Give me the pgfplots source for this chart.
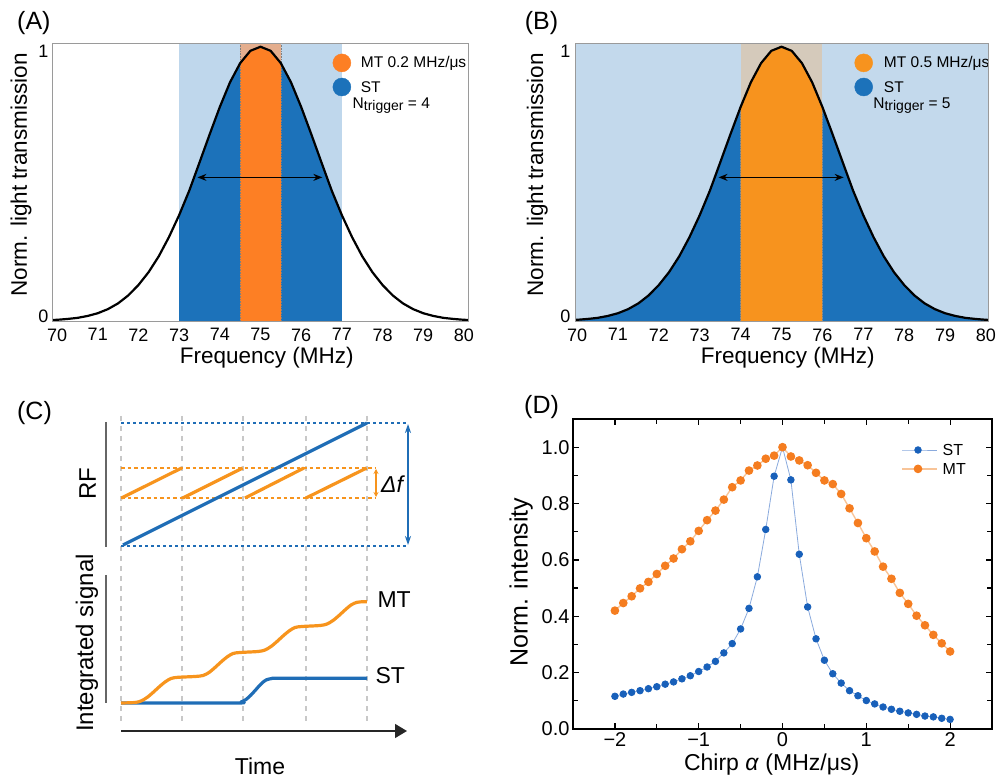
\documentclass[border=0pt]{standalone}
\usepackage{pgfplots}
\usepackage{pgfplotstable}
\pgfplotsset{compat=1.18}
\usepackage{fontspec}
\setmainfont{Liberation Sans}
\usetikzlibrary{arrows.meta}
\definecolor{lbA}{HTML}{BFD7EC}
\definecolor{dbA}{HTML}{1C72BA}
\definecolor{orA}{HTML}{FD7F24}
\definecolor{tanA}{HTML}{E4AE8E}
\definecolor{lbB}{HTML}{C3D9EC}
\definecolor{tanB}{HTML}{D5CABB}
\definecolor{orB}{HTML}{F7931E}
\definecolor{boxgray}{HTML}{9A9A9A}
\definecolor{orC}{HTML}{F7941D}
\definecolor{blC}{HTML}{1F6DB6}
\definecolor{grC}{HTML}{C8C8C8}
\definecolor{stD}{HTML}{1860BA}
\definecolor{stDl}{HTML}{8AAADD}
\definecolor{mtD}{HTML}{F57D20}
\definecolor{mtDl}{HTML}{F8C498}
\newcommand\fs[1]{\fontsize{#1}{#1}\selectfont}

\pgfplotstableread{
x y
69.9 0.0025
70 0.003
70.25 0.006
70.5 0.010
70.75 0.017
71 0.027
71.25 0.042
71.5 0.063
71.75 0.092
72 0.130
72.25 0.177
72.5 0.235
72.75 0.305
73 0.385
73.25 0.475
73.5 0.577
73.75 0.680
74 0.780
74.25 0.870
74.5 0.940
74.75 0.985
75 1.000
75.25 0.985
75.5 0.940
75.75 0.870
76 0.780
76.25 0.680
76.5 0.577
76.75 0.475
77 0.385
77.25 0.305
77.5 0.235
77.75 0.177
78 0.130
78.25 0.092
78.5 0.063
78.75 0.042
79 0.027
79.25 0.017
79.5 0.010
79.75 0.006
80 0.003
80.1 0.0025
}\gauss

\pgfplotsset{
  specAB/.style={
    anchor=south west, scale only axis, height=278pt,
    ymin=-0.005, ymax=1.01,
    xtick={70,71,...,80}, ytick={0.016,0.982}, yticklabels={0,1},
    major tick length=0pt, tick style={draw=none},
    axis line style={draw=boxgray, line width=1pt},
    axis on top,
    /pgf/number format/assume math mode=true,
    tick label style={font=\fs{18}},
    xticklabel style={yshift=-3pt},
    yticklabel style={xshift=-1pt},
    xlabel={Frequency (MHz)}, ylabel={Norm. light transmission},
    label style={font=\fs{22.5}},
  }
}

\begin{document}
\begin{tikzpicture}
\path[use as bounding box] (0,0) rectangle (996pt,781pt);

% ---------------- (A) ----------------
\begin{axis}[specAB, at={(53pt,459pt)}, width=415pt, xmin=69.9, xmax=80.1,
  xlabel style={at={(axis description cs:0.515,-0.129)}, anchor=center},
  ylabel style={at={(axis description cs:-0.077,0.53)}, anchor=center},
  extra description/.code={\node[font=\fs{25}] at (-0.046,1.077) {(A)};}]
\addplot[draw=none, fill=lbA] coordinates {(73,-0.005)(73,1.01)(77,1.01)(77,-0.005)} -- cycle;
\addplot[draw=none, fill=tanA] coordinates {(74.5,-0.005)(74.5,1.01)(75.5,1.01)(75.5,-0.005)} -- cycle;
\addplot[draw=none, fill=dbA] coordinates {(73,-0.005)(73,.385)(73.25,.475)(73.5,.577)(73.75,.680)(74,.780)(74.25,.870)(74.5,.940)(74.75,.985)(75,1)(75.25,.985)(75.5,.940)(75.75,.870)(76,.780)(76.25,.680)(76.5,.577)(76.75,.475)(77,.385)(77,-0.005)} -- cycle;
\addplot[draw=none, fill=orA] coordinates {(74.5,-0.005)(74.5,.940)(74.75,.985)(75,1)(75.25,.985)(75.5,.940)(75.5,-0.005)} -- cycle;
\addplot[black!50, line width=0.6pt, densely dotted] coordinates {(74.5,-0.005)(74.5,1.01)};
\addplot[black!50, line width=0.6pt, densely dotted] coordinates {(75.5,-0.005)(75.5,1.01)};
\addplot[black, line width=2.2pt, line join=round] table {\gauss};
\addplot[black, line width=1.3pt, arrows={Stealth[length=9pt,width=7pt]-Stealth[length=9pt,width=7pt]}] coordinates {(73.45,0.523)(76.52,0.523)};
\addplot[only marks, mark=*, mark size=9pt, color=orA] coordinates {(77.0,0.941)};
\addplot[only marks, mark=*, mark size=9pt, color=dbA] coordinates {(77.0,0.853)};
\node[anchor=west, font=\fs{15.5}] at (axis cs:77.38,0.941) {MT 0.2 MHz/μs};
\node[anchor=west, font=\fs{15.5}] at (axis cs:77.38,0.853) {ST};
\node[anchor=west, font=\fs{15.5}] at (axis cs:77.18,0.785) {N\raisebox{-0.35ex}{\fs{14}trigger} = 4};
\end{axis}

% ---------------- (B) ----------------
\begin{axis}[specAB, at={(575pt,459pt)}, width=413pt, xmin=69.95, xmax=80.05,
  axis background/.style={fill=lbB},
  xlabel style={at={(axis description cs:0.515,-0.129)}, anchor=center},
  ylabel style={at={(axis description cs:-0.091,0.53)}, anchor=center},
  extra description/.code={\node[font=\fs{25}] at (-0.081,1.077) {(B)};}]
\addplot[draw=none, fill=tanB] coordinates {(74,-0.005)(74,1.01)(76,1.01)(76,-0.005)} -- cycle;
\addplot[draw=none, fill=dbA] coordinates {(69.95,-0.005)(69.95,0.0027)(70,.003)(70.25,.006)(70.5,.010)(70.75,.017)(71,.027)(71.25,.042)(71.5,.063)(71.75,.092)(72,.130)(72.25,.177)(72.5,.235)(72.75,.305)(73,.385)(73.25,.475)(73.5,.577)(73.75,.680)(74,.780)(74.25,.870)(74.5,.940)(74.75,.985)(75,1)(75.25,.985)(75.5,.940)(75.75,.870)(76,.780)(76.25,.680)(76.5,.577)(76.75,.475)(77,.385)(77.25,.305)(77.5,.235)(77.75,.177)(78,.130)(78.25,.092)(78.5,.063)(78.75,.042)(79,.027)(79.25,.017)(79.5,.010)(79.75,.006)(80,.003)(80.05,0.0027)(80.05,-0.005)} -- cycle;
\addplot[draw=none, fill=orB] coordinates {(74,-0.005)(74,.780)(74.25,.870)(74.5,.940)(74.75,.985)(75,1)(75.25,.985)(75.5,.940)(75.75,.870)(76,.780)(76,-0.005)} -- cycle;
\addplot[black!45, line width=0.6pt, densely dotted] coordinates {(74,-0.005)(74,0.78)};
\addplot[black!45, line width=0.6pt, densely dotted] coordinates {(76,-0.005)(76,0.78)};
\addplot[black, line width=2.2pt, line join=round] table {\gauss};
\addplot[black, line width=1.3pt, arrows={Stealth[length=9pt,width=7pt]-Stealth[length=9pt,width=7pt]}] coordinates {(73.46,0.523)(76.52,0.523)};
\addplot[only marks, mark=*, mark size=9pt, color=orB] coordinates {(77.01,0.941)};
\addplot[only marks, mark=*, mark size=9pt, color=dbA] coordinates {(77.01,0.853)};
\node[anchor=west, font=\fs{15.5}] at (axis cs:77.42,0.941) {MT 0.5 MHz/μs};
\node[anchor=west, font=\fs{15.5}] at (axis cs:77.42,0.853) {ST};
\node[anchor=west, font=\fs{15.5}] at (axis cs:77.16,0.785) {N\raisebox{-0.35ex}{\fs{14}trigger} = 5};
\end{axis}

% ---------------- (C) ----------------
\begin{axis}[at={(0pt,0pt)}, anchor=south west, scale only axis, width=500pt, height=391pt,
  xmin=0, xmax=500, ymin=390, ymax=781, y dir=reverse, hide axis, clip=false]
\addplot[grC, line width=1.2pt, dash pattern=on 5pt off 5pt] coordinates {(121,416)(121,725)};
\addplot[grC, line width=1.2pt, dash pattern=on 5pt off 5pt] coordinates {(182,416)(182,725)};
\addplot[grC, line width=1.2pt, dash pattern=on 5pt off 5pt] coordinates {(243,416)(243,725)};
\addplot[grC, line width=1.2pt, dash pattern=on 5pt off 5pt] coordinates {(306,416)(306,725)};
\addplot[grC, line width=1.2pt, dash pattern=on 5pt off 5pt] coordinates {(367,416)(367,725)};
\addplot[black!60, line width=1.2pt] coordinates {(106,422)(106,547)};
\addplot[black!60, line width=1.2pt] coordinates {(106,575)(106,703)};
\addplot[blC, line width=1.6pt, dash pattern=on 3pt off 3pt] coordinates {(121,423)(407,423)};
\addplot[blC, line width=1.6pt, dash pattern=on 3pt off 3pt] coordinates {(121,546)(407,546)};
\addplot[orC, line width=1.4pt, dash pattern=on 3.5pt off 3pt] coordinates {(121,468)(375,468)};
\addplot[orC, line width=1.4pt, dash pattern=on 3.5pt off 3pt] coordinates {(121,498)(375,498)};
\addplot[blC, line width=3.2pt] coordinates {(123,545)(367,423)};
\addplot[orC, line width=3.2pt] coordinates {(121.5,498)(181.7,468)};
\addplot[orC, line width=3.2pt] coordinates {(182.7,498)(242.7,468)};
\addplot[orC, line width=3.2pt] coordinates {(245,498)(304,468)};
\addplot[orC, line width=3.2pt] coordinates {(306,498)(366.7,468)};
\addplot[blC, line width=1.4pt, arrows={Stealth[length=9pt,width=6pt]-Stealth[length=9pt,width=6pt]}] coordinates {(408,424)(408,545)};
\addplot[orC, line width=1.2pt, arrows={Stealth[length=5pt,width=5pt]-Stealth[length=5pt,width=5pt]}] coordinates {(376,469)(376,497)};
\addplot[blC, line width=3.2pt, line join=round, smooth] coordinates {(121,703)(236,703)(241,702)(246,699.5)(251,695)(256,689.5)(261,684)(266,680)(272,678.5)(280,678.2)(367,678.2)};
\addplot[orC, line width=3.2pt, line join=round, smooth] coordinates {(121,703)(135,702.5)(141,701)(147,697.5)(153,692.5)(159,687)(165,682)(171,678.5)(178,677.3)(195,676.5)(203,675.5)(209,672.5)(215,667.5)(221,662)(227,657)(233,653.5)(240,652.5)(258,651.5)(265,650)(271,646.5)(277,641.5)(283,636)(289,631)(295,627.5)(302,626.5)(320,625.5)(327,624)(333,620.5)(339,615.5)(345,610)(351,605)(357,602.3)(364,601.7)(367,601.7)};
\addplot[black!85, line width=1.5pt, arrows={-Triangle[length=12pt,width=14pt]}] coordinates {(121,731)(407,731)};
\node[font=\fs{23}\itshape] at (axis cs:392,484) {Δf};
\node[font=\fs{23}, anchor=west] at (axis cs:374,600) {MT};
\node[font=\fs{23}, anchor=west] at (axis cs:372,675.5) {ST};
\node[font=\fs{23}] at (axis cs:260,766.5) {Time};
\node[font=\fs{24}, rotate=90] at (axis cs:87.5,484) {RF};
\node[font=\fs{24}, rotate=90] at (axis cs:87,643) {Integrated signal};
\node[font=\fs{25}] at (axis cs:34.5,413) {(C)};
\end{axis}

% ---------------- (D) ----------------
\begin{axis}[at={(573pt,52pt)}, anchor=south west, scale only axis, width=419pt, height=310pt,
  xmin=-2.5, xmax=2.5, ymin=0, ymax=1.1,
  xtick={-2,-1,0,1,2}, xticklabels={−2,−1,0,1,2},
  ytick={0,0.2,0.4,0.6,0.8,1.0}, yticklabels={0.0,0.2,0.4,0.6,0.8,1.0},
  minor xtick={-1.5,-0.5,0.5,1.5}, minor ytick={0.1,0.3,0.5,0.7,0.9},
  tick align=inside, major tick length=6pt, minor tick length=5pt,
  tick style={line width=1.2pt, black},
  axis line style={line width=1.2pt},
  tick label style={font=\fs{20}},
  xlabel={Chirp \textit{α} (MHz/μs)}, ylabel={Norm. intensity},
  xlabel style={font=\fs{23}, at={(axis description cs:0.474,-0.116)}, anchor=center},
  ylabel style={font=\fs{25}, at={(axis description cs:-0.124,0.474)}, anchor=center},
  clip=false]
\addplot[stDl, line width=0.8pt, mark=*, mark size=3.3pt, mark options={draw=stD, fill=stD}] coordinates {(-2,0.116)(-1.9,0.124)(-1.8,0.130)(-1.7,0.136)(-1.6,0.143)(-1.5,0.150)(-1.4,0.159)(-1.3,0.167)(-1.2,0.178)(-1.1,0.189)(-1.0,0.204)(-0.9,0.220)(-0.8,0.240)(-0.7,0.270)(-0.6,0.303)(-0.5,0.355)(-0.4,0.428)(-0.3,0.540)(-0.2,0.708)(-0.1,0.897)(0,1.0)(0.1,0.884)(0.2,0.620)(0.3,0.433)(0.4,0.320)(0.5,0.244)(0.6,0.196)(0.7,0.163)(0.8,0.136)(0.9,0.118)(1.0,0.101)(1.1,0.089)(1.2,0.078)(1.3,0.070)(1.4,0.063)(1.5,0.057)(1.6,0.052)(1.7,0.046)(1.8,0.043)(1.9,0.038)(2.0,0.034)};
\addplot[mtDl, line width=1.4pt, mark=*, mark size=3.6pt, mark options={draw=mtD, fill=mtD}] coordinates {(-2,0.420)(-1.9,0.447)(-1.8,0.471)(-1.7,0.499)(-1.6,0.522)(-1.5,0.550)(-1.4,0.579)(-1.3,0.605)(-1.2,0.638)(-1.1,0.666)(-1.0,0.703)(-0.9,0.741)(-0.8,0.775)(-0.7,0.814)(-0.6,0.858)(-0.5,0.882)(-0.4,0.917)(-0.3,0.935)(-0.2,0.959)(-0.1,0.970)(0,1.0)(0.1,0.967)(0.2,0.953)(0.3,0.936)(0.4,0.909)(0.5,0.882)(0.6,0.869)(0.7,0.834)(0.8,0.783)(0.9,0.731)(1.0,0.677)(1.1,0.630)(1.2,0.576)(1.3,0.533)(1.4,0.483)(1.5,0.444)(1.6,0.402)(1.7,0.368)(1.8,0.334)(1.9,0.304)(2.0,0.275)};
\addplot[stDl, line width=0.8pt, mark=*, mark size=3.3pt, mark indices={2}, mark options={draw=stD, fill=stD}] coordinates {(1.426,0.990)(1.617,0.990)(1.844,0.990)};
\addplot[mtDl, line width=1.4pt, mark=*, mark size=3.6pt, mark indices={2}, mark options={draw=mtD, fill=mtD}] coordinates {(1.426,0.923)(1.617,0.923)(1.844,0.923)};
\node[anchor=west, font=\fs{16}] at (axis cs:1.87,0.990) {ST};
\node[anchor=west, font=\fs{16}] at (axis cs:1.87,0.923) {MT};
\node[font=\fs{25}] at (axis description cs:-0.075,1.039) {(D)};
\end{axis}
\end{tikzpicture}
\end{document}
